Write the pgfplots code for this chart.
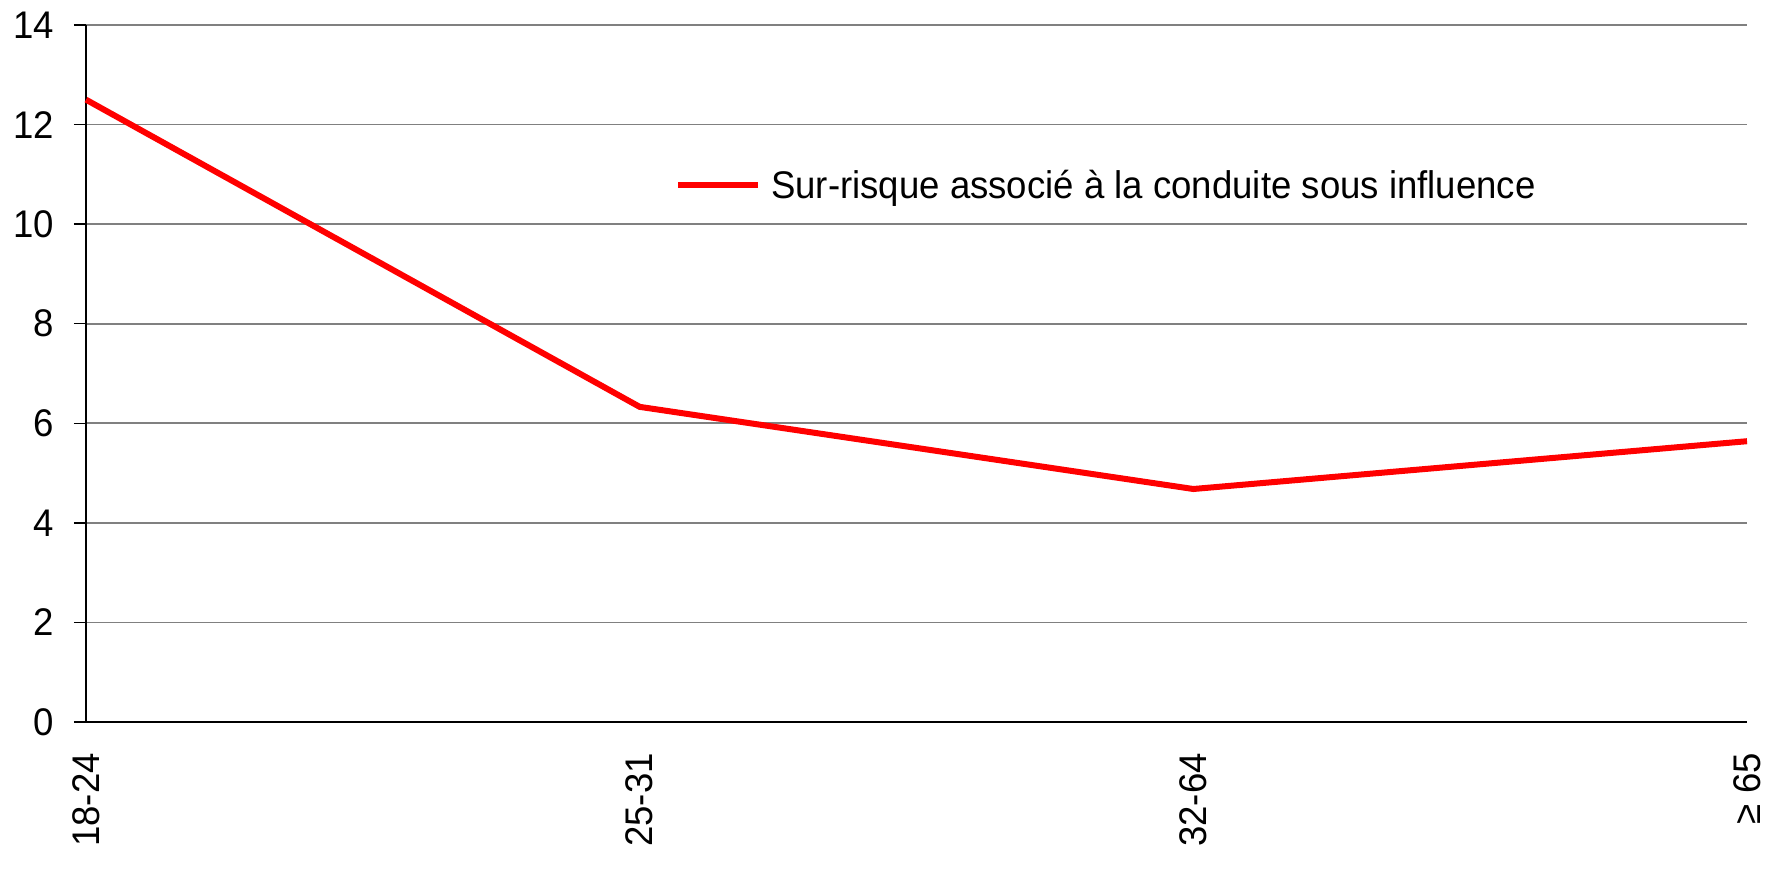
\documentclass[border=0pt]{standalone}
\usepackage{fontspec}
\setmainfont[FakeStretch=0.95]{Liberation Sans}
\usepackage{pgfplots}
\pgfplotsset{compat=1.18}
\definecolor{gridgray}{RGB}{128,128,128}
\definecolor{lred}{RGB}{255,0,0}
\begin{document}
\begin{tikzpicture}
\begin{axis}[
  scale only axis,
  width=1661bp, height=697bp,
  xmin=0, xmax=3, ymin=0, ymax=14,
  axis x line*=bottom, axis y line*=left,
  axis line style={black, line width=1.5bp},
  xtick={0,1,2,3},
  xticklabels={18-24,25-31,32-64,≥ 65},
  minor xtick={0,0.5,1,1.5,2,2.5,3},
  xtick style={draw=none},
  minor tick style={black, line width=1.5bp},
  ytick={0,2,...,14},
  ytick style={black, line width=1.5bp},
  major tick length=12bp, minor tick length=8bp,
  tick align=outside,
  ymajorgrids,
  grid style={gridgray, line width=1.7bp},
  /pgf/number format/assume math mode=true,
  tick label style={font=\fontsize{38.5bp}{46bp}\selectfont, inner sep=0pt},
  xticklabel style={rotate=90, anchor=east},
  yticklabel style={anchor=east},
  yticklabel shift=20bp,
  xticklabel shift=19bp,
  legend style={at={(rel axis cs:0.3546,0.7704)}, anchor=west, draw=none, fill=none,
    inner sep=0pt, column sep=10bp, nodes={inner sep=0pt},
    font=\fontsize{38.5bp}{46bp}\selectfont},
  legend image code/.code={\draw[#1] (0bp,0bp) -- (80bp,0bp);},
  clip=false,
]
\addplot[lred, line width=6bp] coordinates {(0,12.5) (1,6.33) (2,4.68) (3,5.64)};
\addlegendentry{Sur-risque associé à la conduite sous influence}
\coordinate (bl) at (rel axis cs:0,0);
\coordinate (tr) at (rel axis cs:1,1);
\end{axis}
\pgfresetboundingbox
\path ([xshift=-86bp,yshift=-147bp]bl) rectangle ([xshift=22bp,yshift=25bp]tr);
\end{tikzpicture}
\end{document}
